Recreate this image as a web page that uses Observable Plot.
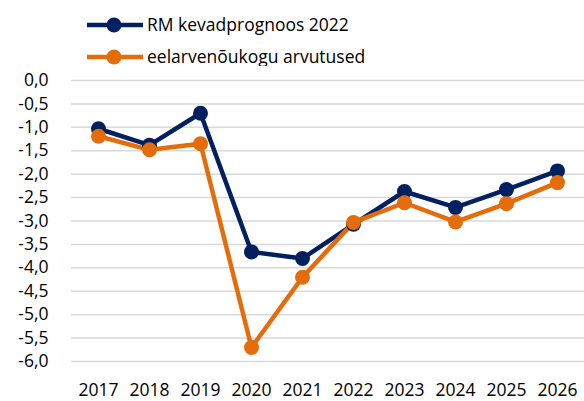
<!DOCTYPE html>
<html>
<head>
<meta charset="utf-8">
<script src="https://cdn.jsdelivr.net/npm/d3@7"></script>
<script src="https://cdn.jsdelivr.net/npm/@observablehq/plot@0.6"></script>
<style>
  html, body { margin: 0; padding: 0; background: #fff; }
  #wrap { position: relative; width: 584px; height: 401px; overflow: hidden; font-family: "Open Sans", sans-serif; }
  #legend { position: absolute; left: 86px; top: 9px; }
  .row { display: flex; align-items: center; height: 32px; font-size: 17.5px; line-height: 20px; color: #000; }
  .row svg { margin-right: 3px; flex: none; }
  .row span { position: relative; top: -1px; }
  #chart { position: absolute; left: 0; top: 66px; }
  #chart svg text { font-size: 17.5px; fill: #000; }
</style>
</head>
<body>
<div id="wrap">
  <div id="legend"></div>
  <div id="chart"></div>
</div>
<script>
const years = ["2017","2018","2019","2020","2021","2022","2023","2024","2025","2026"];
const seriesNames = ["RM kevadprognoos 2022", "eelarvenõukogu arvutused"];
const seriesColors = ["#002060", "#e46c0a"];
const rmValues = [-1.03, -1.38, -0.70, -3.66, -3.80, -3.07, -2.37, -2.71, -2.33, -1.93];
const eelValues = [-1.19, -1.48, -1.35, -5.70, -4.20, -3.03, -2.61, -3.02, -2.63, -2.18];
const yTicks = [0, -0.5, -1, -1.5, -2, -2.5, -3, -3.5, -4, -4.5, -5, -5.5, -6];

const data = [];
years.forEach((yr, i) => {
  data.push({year: yr, value: rmValues[i], series: seriesNames[0]});
  data.push({year: yr, value: eelValues[i], series: seriesNames[1]});
});

const fmt = v => d3.format(".1f")(v).replace("−", "-").replace(".", ",");

const chart = Plot.plot({
  width: 584,
  height: 335,
  marginLeft: 71,
  marginRight: 0,
  marginTop: 14,
  marginBottom: 40,
  style: { fontFamily: "Open Sans, sans-serif", fontSize: "17.5px", color: "#000", background: "#fff", overflow: "visible" },
  x: { type: "point", domain: years, padding: 0.5, label: null },
  y: { domain: [-6, 0], label: null },
  color: { domain: seriesNames, range: seriesColors },
  marks: [
    Plot.ruleY(yTicks, { stroke: "#d9d9d9", strokeWidth: 1.5 }),
    Plot.axisY({ ticks: yTicks, tickSize: 0, tickPadding: 23, tickFormat: fmt, label: null }),
    Plot.axisX({ tickSize: 0, tickPadding: 22, label: null }),
    Plot.line(data, { x: "year", y: "value", z: "series", stroke: "series", strokeWidth: 4.5, strokeLinejoin: "round" }),
    Plot.dot(data, { x: "year", y: "value", fill: "series", r: 7.5 })
  ]
});
document.getElementById("chart").appendChild(chart);

const legend = document.getElementById("legend");
seriesNames.forEach((name, i) => {
  const row = document.createElement("div");
  row.className = "row";
  row.innerHTML = `<svg width="58" height="20"><line x1="1" y1="10" x2="57" y2="10" stroke="${seriesColors[i]}" stroke-width="4.5"/><circle cx="28" cy="10" r="7.5" fill="${seriesColors[i]}"/></svg><span>${name}</span>`;
  legend.appendChild(row);
});
</script>
</body>
</html>
